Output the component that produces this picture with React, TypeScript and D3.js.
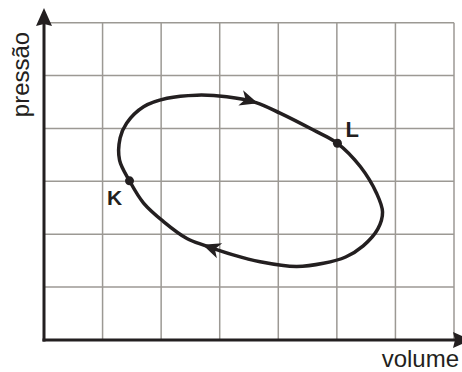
import React from 'react'
import * as d3 from 'd3'

// closed cycle, read clockwise starting at K (grid units: 7 cells wide, 6 tall)
const cycleX = [1.46, 1.29, 1.30, 1.41, 1.70, 2.10, 2.61, 3.12, 3.62, 4.03, 4.60, 5.01, 5.40, 5.68, 5.78, 5.70, 5.45, 5.15, 4.77, 4.31, 3.69, 3.23, 2.74, 2.44, 2.04, 1.70]
const cycleY = [3.01, 3.40, 3.82, 4.10, 4.41, 4.57, 4.63, 4.60, 4.49, 4.29, 3.97, 3.72, 3.28, 2.77, 2.42, 2.10, 1.78, 1.57, 1.45, 1.39, 1.48, 1.61, 1.79, 1.92, 2.24, 2.59]

const pointNames = ['K', 'L']
const pointIdx = [0, 11]
const arrowIdx = [8, 22]

const gridX = [0, 1, 2, 3, 4, 5, 6, 7]
const gridY = [0, 1, 2, 3, 4, 5, 6]

const W = 462
const H = 372
const dark = '#231f20'
const grey = '#9c9994'

export default function App() {
  const x = d3.scaleLinear().domain([0, 7]).range([44, 454])
  const y = d3.scaleLinear().domain([0, 6]).range([340, 22.7])

  const pts: [number, number][] = cycleX.map((v, i) => [x(v), y(cycleY[i])])
  const line = d3.line().curve(d3.curveCatmullRomClosed.alpha(0.5))
  const n = pts.length

  const arrow = 'M2,0 L-16,-8 L-11,0 L-16,8 Z'
  const axisArrow = 'M0,0 L-18,-8 L-16,0 L-18,8 Z'

  return (
    <svg width={W} height={H} style={{ position: 'absolute', left: 0, top: 0, background: '#fff' }}>
      <g>
        {gridX.map(v => (
          <line key={'gx' + v} x1={x(v)} x2={x(v)} y1={y(0)} y2={y(6)} stroke={grey} strokeWidth={1.5} />
        ))}
        {gridY.map(v => (
          <line key={'gy' + v} x1={x(0)} x2={x(7)} y1={y(v)} y2={y(v)} stroke={grey} strokeWidth={1.5} />
        ))}
      </g>

      {/* axes */}
      <line x1={x(0)} x2={x(0)} y1={y(0) + 1.5} y2={20} stroke={dark} strokeWidth={3} />
      <line x1={x(0) - 1.5} x2={458} y1={y(0)} y2={y(0)} stroke={dark} strokeWidth={3} />
      <path d={axisArrow} fill={dark} transform={`translate(${x(0)},8) rotate(-90)`} />
      <path d={axisArrow} fill={dark} transform={`translate(471,${y(0)})`} />

      <text x={459} y={367} textAnchor="end" fontFamily="Liberation Sans, Arial, sans-serif" fontSize={24} fill={dark}>volume</text>
      <text transform="translate(29,74.5) rotate(-90)" textAnchor="middle" fontFamily="Liberation Sans, Arial, sans-serif" fontSize={24} fill={dark}>pressão</text>

      <path d={line(pts) || ''} fill="none" stroke={dark} strokeWidth={3.5} />

      {arrowIdx.map(i => {
        const a = pts[(i - 1 + n) % n]
        const b = pts[(i + 1) % n]
        const ang = (Math.atan2(b[1] - a[1], b[0] - a[0]) * 180) / Math.PI
        return <path key={'a' + i} d={arrow} fill={dark} transform={`translate(${pts[i][0]},${pts[i][1]}) rotate(${ang})`} />
      })}

      {pointIdx.map((i, k) => (
        <circle key={'p' + k} cx={pts[i][0]} cy={pts[i][1]} r={4.5} fill={dark} />
      ))}
      <text x={pts[pointIdx[0]][0] - 22.5} y={205} fontFamily="Liberation Sans, Arial, sans-serif" fontWeight="bold" fontSize={21} fill={dark}>{pointNames[0]}</text>
      <text x={pts[pointIdx[1]][0] + 8} y={136.7} fontFamily="Liberation Sans, Arial, sans-serif" fontWeight="bold" fontSize={22} fill={dark}>{pointNames[1]}</text>
    </svg>
  )
}
